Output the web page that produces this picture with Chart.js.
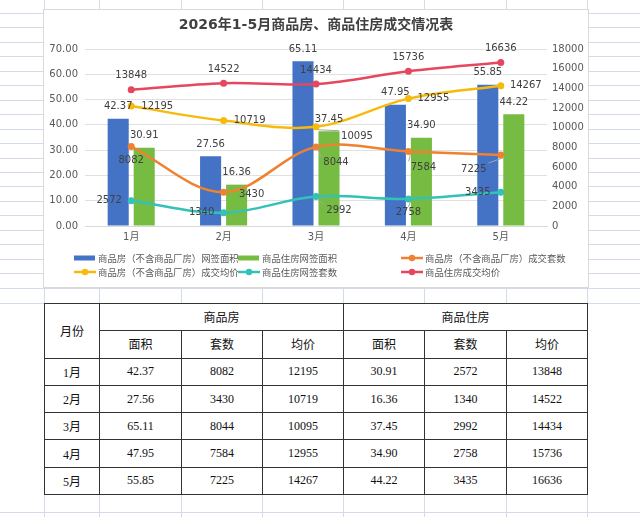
<!DOCTYPE html>
<html lang="zh">
<head>
<meta charset="UTF-8">
<title>2026年1-5月商品房、商品住房成交情况表</title>
<script src="https://cdn.jsdelivr.net/npm/chart.js"></script>
<style>
  html, body { margin: 0; padding: 0; background: #fff; }
  body { width: 640px; height: 517px; position: relative; overflow: hidden; }
  .gl { position: absolute; background: #d5dae8; }
  #chartBox { position: absolute; left: 44px; top: 10px; width: 544px; height: 277px; background: #fff; outline: 1px solid #d9d9d9; }
  #dataTable { position: absolute; left: 44px; top: 303px; width: 544px; border-collapse: collapse; table-layout: fixed; background: #fff;
    font-family: "Liberation Serif", "Noto Sans CJK SC", serif; font-size: 12px; color: #111; }
  #dataTable td { border: 1px solid #333; text-align: center; padding: 0; }
  #dataTable tr { height: 27.3px; }
</style>
</head>
<body>
<div id="chartBox"><canvas id="chart"></canvas></div>
<table id="dataTable">
  <colgroup>
    <col style="width:55px"><col style="width:82px"><col style="width:81px"><col style="width:81px">
    <col style="width:81px"><col style="width:82px"><col style="width:81px">
  </colgroup>
  <tbody id="tbody"></tbody>
</table>

<script>
// 数据
const months = ['1月', '2月', '3月', '4月', '5月'];
const spfArea = [42.37, 27.56, 65.11, 47.95, 55.85];   // 商品房网签面积
const spfCount = [8082, 3430, 8044, 7584, 7225];       // 商品房成交套数
const spfPrice = [12195, 10719, 10095, 12955, 14267];  // 商品房成交均价
const zfArea = [30.91, 16.36, 37.45, 34.90, 44.22];    // 商品住房网签面积
const zfCount = [2572, 1340, 2992, 2758, 3435];        // 商品住房网签套数
const zfPrice = [13848, 14522, 14434, 15736, 16636];   // 商品住房成交均价

// 背景表格线
const rowLines = [];
for (let i = 0; i < 20; i++) rowLines.push(13 + i * 14.45);
rowLines.push(303, 512);
const colLines = [44, 99, 181, 262, 343, 424, 506, 587];
rowLines.forEach(y => {
    const d = document.createElement('div');
    d.className = 'gl';
    d.style.cssText = `left:0;top:${Math.round(y)}px;width:640px;height:1px;`;
    document.body.insertBefore(d, document.body.firstChild);
});
colLines.forEach(x => {
    const d = document.createElement('div');
    d.className = 'gl';
    d.style.cssText = `left:${x}px;top:0;width:1px;height:517px;`;
    document.body.insertBefore(d, document.body.firstChild);
});

// 表格
const tbody = document.getElementById('tbody');
let html = '<tr><td rowspan="2">月份</td><td colspan="3">商品房</td><td colspan="3">商品住房</td></tr>';
html += '<tr><td>面积</td><td>套数</td><td>均价</td><td>面积</td><td>套数</td><td>均价</td></tr>';
months.forEach((m, i) => {
    html += `<tr><td>${m}</td><td>${spfArea[i].toFixed(2)}</td><td>${spfCount[i]}</td><td>${spfPrice[i]}</td>` +
            `<td>${zfArea[i].toFixed(2)}</td><td>${zfCount[i]}</td><td>${zfPrice[i]}</td></tr>`;
});
tbody.innerHTML = html;

// 数据标签位置 [dx, dy, 引导线]
const labelPlace = [
    [[0, -12], [0, -12], [0, -12], [0, -12], [0, -12]],
    [[0, -12], [0, -12], [0, -12], [0, -12], [0, -12]],
    [[0, 13.5], [28, 2], [20, 16, 1], [15, 16, 1], [-27, 14, 1]],
    [[26, 0], [26, 0], [41, 10, 1], [25, 0], [25, 0]],
    [[-22, 0], [-22, 0], [23, 14, 1], [0, 14, 1], [-23, 0]],
    [[0, -14], [0, -14], [0, -14], [0, -14], [0, -14]]
];

const tickFont = { family: '"DejaVu Sans", "Noto Sans CJK SC"', size: 10 };

const valueLabels = {
    id: 'valueLabels',
    afterDatasetsDraw(chart) {
        const ctx = chart.ctx;
        ctx.save();
        ctx.font = '10px "DejaVu Sans"';
        ctx.textAlign = 'center';
        ctx.textBaseline = 'middle';
        chart.data.datasets.forEach((ds, di) => {
            const meta = chart.getDatasetMeta(di);
            meta.data.forEach((el, i) => {
                const txt = ds.type === 'bar' ? ds.data[i].toFixed(2) : String(ds.data[i]);
                const p = labelPlace[di][i];
                const x = el.x + p[0], y = el.y + p[1];
                if (p[2]) {
                    const w = ctx.measureText(txt).width;
                    const nx = Math.min(Math.max(el.x, x - w / 2 - 2), x + w / 2 + 2);
                    const ny = Math.min(Math.max(el.y, y - 6), y + 6);
                    ctx.strokeStyle = '#a6a6a6';
                    ctx.lineWidth = 1;
                    ctx.beginPath();
                    ctx.moveTo(el.x + 2, el.y + 3);
                    ctx.lineTo(nx, ny);
                    ctx.stroke();
                }
                ctx.fillStyle = '#404040';
                ctx.fillText(txt, x, y);
            });
        });
        ctx.restore();
    }
};

const legendPos = [[30, 248], [194, 248], [357, 248], [30, 262], [194, 262], [357, 262]];
const customLegend = {
    id: 'customLegend',
    afterDraw(chart) {
        const ctx = chart.ctx;
        ctx.save();
        ctx.font = '9.4px "Noto Sans CJK SC"';
        ctx.textBaseline = 'middle';
        ctx.textAlign = 'left';
        chart.data.datasets.forEach((ds, i) => {
            const [x, y] = legendPos[i];
            const c = ds.type === 'bar' ? ds.backgroundColor : ds.borderColor;
            if (ds.type === 'bar') {
                ctx.fillStyle = c;
                ctx.fillRect(x, y - 2.5, 21, 5);
            } else {
                ctx.strokeStyle = c;
                ctx.lineWidth = 2.5;
                ctx.beginPath();
                ctx.moveTo(x, y);
                ctx.lineTo(x + 22, y);
                ctx.stroke();
                ctx.fillStyle = c;
                ctx.beginPath();
                ctx.arc(x + 11, y, 3.2, 0, Math.PI * 2);
                ctx.fill();
            }
            ctx.fillStyle = '#595959';
            ctx.fillText(ds.label, x + 24, y + 0.5);
        });
        ctx.restore();
    }
};

function lineSet(label, data, color) {
    return {
        type: 'line', label: label, data: data, yAxisID: 'y1', order: 1,
        borderColor: color, backgroundColor: color, borderWidth: 2.5,
        pointRadius: 3.5, pointBorderWidth: 0, pointBackgroundColor: color,
        tension: 0.35, fill: false, clip: false
    };
}

new Chart(document.getElementById('chart'), {
    data: {
        labels: months,
        datasets: [
            { type: 'bar', label: '商品房（不含商品厂房）网签面积', data: spfArea, backgroundColor: '#4472C4', yAxisID: 'y', order: 2,
              categoryPercentage: 0.563, barPercentage: 0.81 },
            { type: 'bar', label: '商品住房网签面积', data: zfArea, backgroundColor: '#76BC43', yAxisID: 'y', order: 2,
              categoryPercentage: 0.563, barPercentage: 0.81 },
            lineSet('商品房（不含商品厂房）成交套数', spfCount, '#EE8230'),
            lineSet('商品房（不含商品厂房）成交均价', spfPrice, '#F7BA0B'),
            lineSet('商品住房网签套数', zfCount, '#33C2B6'),
            lineSet('商品住房成交均价', zfPrice, '#E6475E')
        ]
    },
    options: {
        responsive: true,
        maintainAspectRatio: false,
        animation: false,
        layout: { padding: 0 },
        plugins: {
            legend: { display: false },
            tooltip: { enabled: false },
            title: {
                display: true,
                text: '2026年1-5月商品房、商品住房成交情况表',
                color: '#404040',
                font: { family: '"DejaVu Sans", "Noto Sans CJK SC"', size: 14, weight: 'bold' },
                padding: { top: 6.6, bottom: 15.6 }
            }
        },
        scales: {
            x: {
                grid: { display: false, drawTicks: false },
                border: { color: '#d9d9d9' },
                ticks: { font: tickFont, color: '#595959', padding: 5 },
                afterFit(s) { s.height = 61; }
            },
            y: {
                position: 'left', min: 0, max: 70,
                ticks: { stepSize: 10, font: tickFont, color: '#595959', padding: 7, callback: v => v.toFixed(2) },
                grid: { color: '#e0e0e0', drawTicks: false },
                border: { display: false },
                afterFit(s) { s.width = 41; }
            },
            y1: {
                position: 'right', min: 0, max: 18000,
                ticks: { stepSize: 2000, font: tickFont, color: '#595959', padding: 5, callback: v => String(v) },
                grid: { display: false, drawTicks: false },
                border: { display: false },
                afterFit(s) { s.width = 41; }
            }
        }
    },
    plugins: [valueLabels, customLegend]
});
</script>
</body>
</html>
